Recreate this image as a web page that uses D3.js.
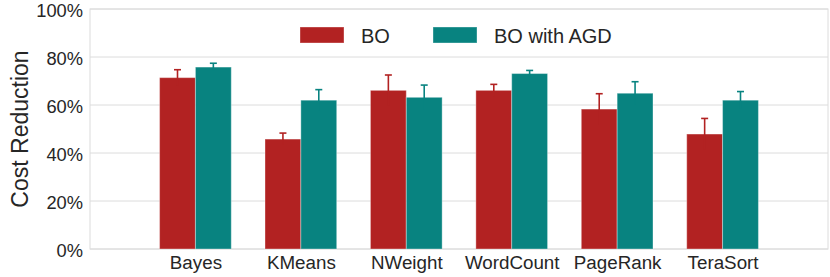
<!DOCTYPE html>
<html><head><meta charset="utf-8">
<script src="https://cdn.jsdelivr.net/npm/d3@7"></script>
<style>body{margin:0;background:#fff}svg{display:block}</style>
</head><body>
<svg id="c" width="830" height="277"></svg>
<script>
const categories = ["Bayes","KMeans","NWeight","WordCount","PageRank","TeraSort"];
const seriesNames = ["BO","BO with AGD"];
const boValues = [71.4, 45.8, 66.1, 66.1, 58.3, 47.9];
const boErrors = [3.3, 2.5, 6.4, 2.5, 6.4, 6.5];
const agdValues = [75.8, 62.0, 63.2, 73.1, 64.9, 62.0];
const agdErrors = [1.6, 4.4, 5.1, 1.3, 4.8, 3.6];
const yTicks = [0, 20, 40, 60, 80, 100];
const colors = ["#b22222", "#088380"];

const svg = d3.select("#c");
const L = 90, R = 828, T = 9, B = 249;
const x = d3.scaleLinear().domain([-1, 6]).range([L, R]);
const y = d3.scaleLinear().domain([0, 100]).range([B, T]);
const barW = x(0.34) - x(0);
const fontFam = "'Liberation Sans', Arial, Helvetica, sans-serif";
const txt = "#262626";

// grid
svg.append("g").selectAll("line").data(yTicks).join("line")
  .attr("x1", L).attr("x2", R).attr("y1", d => y(d)).attr("y2", d => y(d))
  .attr("stroke", "#dcdcdc").attr("stroke-width", 1);
// frame
svg.append("rect").attr("x", L).attr("y", T).attr("width", R - L).attr("height", B - T)
  .attr("fill", "none").attr("stroke", "#dcdcdc").attr("stroke-width", 1);

// y axis labels
const yAxis = d3.axisLeft(y).tickValues(yTicks).tickFormat(d => d + "%").tickSize(0).tickPadding(7);
const ya = svg.append("g").attr("transform", `translate(${L},0)`).call(yAxis);
ya.select(".domain").remove();
ya.selectAll("text").attr("font-family", fontFam).attr("font-size", 18.3).attr("fill", txt).attr("dy", "0.39em");

// x axis labels
const xAxis = d3.axisBottom(x).tickValues(d3.range(categories.length)).tickFormat(i => categories[i]).tickSize(0).tickPadding(7);
const xa = svg.append("g").attr("transform", `translate(0,${B})`).call(xAxis);
xa.select(".domain").remove();
xa.selectAll("text").attr("font-family", fontFam).attr("font-size", 18.8).attr("fill", txt);

// bars
const series = [
  {vals: boValues, errs: boErrors, off: -0.5},
  {vals: agdValues, errs: agdErrors, off: 0.5}
];
series.forEach((s, si) => {
  const g = svg.append("g");
  g.selectAll("rect").data(s.vals).join("rect")
    .attr("x", (d, i) => x(i) + (s.off < 0 ? -barW : 0))
    .attr("y", d => y(d)).attr("width", barW).attr("height", d => B - y(d))
    .attr("fill", colors[si]).attr("stroke", "rgba(255,255,255,0.35)").attr("stroke-width", 1);
  const cx = i => x(i) + s.off * barW;
  const eg = svg.append("g").attr("stroke", colors[si]).attr("stroke-width", 1.6);
  s.vals.forEach((v, i) => {
    eg.append("line").attr("x1", cx(i)).attr("x2", cx(i)).attr("y1", y(v - s.errs[i])).attr("y2", y(v + s.errs[i]));
    eg.append("line").attr("x1", cx(i) - 3.5).attr("x2", cx(i) + 3.5).attr("y1", y(v + s.errs[i])).attr("y2", y(v + s.errs[i]));
  });
});

// legend
const leg = svg.append("g");
const legX = [300, 433];
seriesNames.forEach((n, i) => {
  leg.append("rect").attr("x", legX[i]).attr("y", 27).attr("width", 44).attr("height", 16)
    .attr("fill", colors[i]).attr("stroke", "rgba(255,255,255,0.35)");
  leg.append("text").attr("x", legX[i] + 61).attr("y", 42.5).text(n)
    .attr("font-family", fontFam).attr("font-size", 20).attr("fill", txt);
});

// y label
svg.append("text").attr("transform", `translate(28,${(T + B) / 2}) rotate(-90)`)
  .attr("text-anchor", "middle").text("Cost Reduction")
  .attr("font-family", fontFam).attr("font-size", 23).attr("fill", txt);
</script>
</body></html>
